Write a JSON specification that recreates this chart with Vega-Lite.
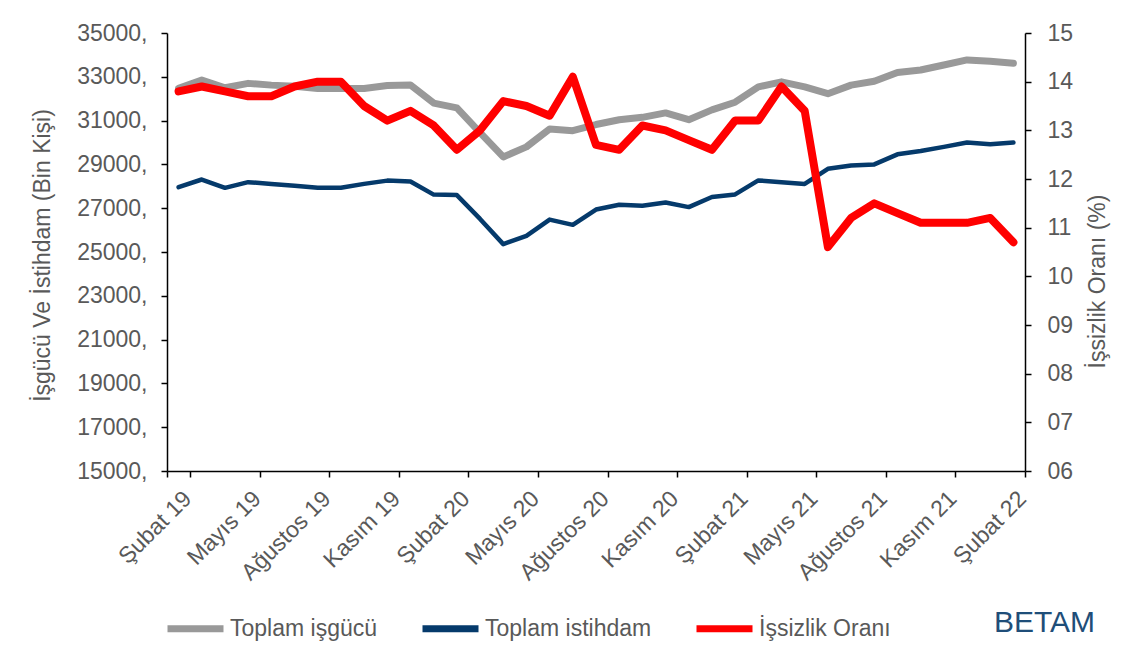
{
  "$schema": "https://vega.github.io/schema/vega-lite/v6.json",
  "width": 858,
  "height": 438,
  "autosize": {"type": "none"},
  "padding": {"left": 167, "top": 33, "right": 106, "bottom": 188},
  "background": "white",
  "config": {
    "view": {"stroke": null},
    "font": "Liberation Sans",
    "axis": {
      "labelFont": "Liberation Sans",
      "labelFontSize": 23,
      "labelColor": "#595959",
      "titleFont": "Liberation Sans",
      "titleFontSize": 23,
      "titleColor": "#595959",
      "titleFontWeight": "normal",
      "domainColor": "#000000",
      "domainWidth": 1.5,
      "tickColor": "#000000",
      "tickWidth": 1.5,
      "tickSize": 6,
      "grid": false
    },
    "legend": {
      "labelFont": "Liberation Sans",
      "labelFontSize": 23,
      "labelColor": "#595959",
      "labelLimit": 400
    }
  },
  "data": {
    "values": [
      {"ay": "Şubat 19", "Toplam işgücü": 32470, "Toplam istihdam": 27960, "İşsizlik Oranı": 13.8},
      {"ay": "Mart 19", "Toplam işgücü": 32850, "Toplam istihdam": 28310, "İşsizlik Oranı": 13.9},
      {"ay": "Nisan 19", "Toplam işgücü": 32500, "Toplam istihdam": 27930, "İşsizlik Oranı": 13.8},
      {"ay": "Mayıs 19", "Toplam işgücü": 32700, "Toplam istihdam": 28190, "İşsizlik Oranı": 13.7},
      {"ay": "Haziran 19", "Toplam işgücü": 32620, "Toplam istihdam": 28110, "İşsizlik Oranı": 13.7},
      {"ay": "Temmuz 19", "Toplam işgücü": 32570, "Toplam istihdam": 28030, "İşsizlik Oranı": 13.9},
      {"ay": "Ağustos 19", "Toplam işgücü": 32470, "Toplam istihdam": 27930, "İşsizlik Oranı": 14.0},
      {"ay": "Eylül 19", "Toplam işgücü": 32470, "Toplam istihdam": 27930, "İşsizlik Oranı": 14.0},
      {"ay": "Ekim 19", "Toplam işgücü": 32470, "Toplam istihdam": 28110, "İşsizlik Oranı": 13.5},
      {"ay": "Kasım 19", "Toplam işgücü": 32600, "Toplam istihdam": 28260, "İşsizlik Oranı": 13.2},
      {"ay": "Aralık 19", "Toplam işgücü": 32630, "Toplam istihdam": 28220, "İşsizlik Oranı": 13.4},
      {"ay": "Ocak 20", "Toplam işgücü": 31800, "Toplam istihdam": 27620, "İşsizlik Oranı": 13.1},
      {"ay": "Şubat 20", "Toplam işgücü": 31580, "Toplam istihdam": 27600, "İşsizlik Oranı": 12.6},
      {"ay": "Mart 20", "Toplam işgücü": 30450, "Toplam istihdam": 26510, "İşsizlik Oranı": 13.0},
      {"ay": "Nisan 20", "Toplam işgücü": 29340, "Toplam istihdam": 25360, "İşsizlik Oranı": 13.6},
      {"ay": "Mayıs 20", "Toplam işgücü": 29800, "Toplam istihdam": 25740, "İşsizlik Oranı": 13.5},
      {"ay": "Haziran 20", "Toplam işgücü": 30620, "Toplam istihdam": 26480, "İşsizlik Oranı": 13.3},
      {"ay": "Temmuz 20", "Toplam işgücü": 30540, "Toplam istihdam": 26240, "İşsizlik Oranı": 14.1},
      {"ay": "Ağustos 20", "Toplam işgücü": 30820, "Toplam istihdam": 26940, "İşsizlik Oranı": 12.7},
      {"ay": "Eylül 20", "Toplam işgücü": 31040, "Toplam istihdam": 27160, "İşsizlik Oranı": 12.6},
      {"ay": "Ekim 20", "Toplam işgücü": 31150, "Toplam istihdam": 27110, "İşsizlik Oranı": 13.1},
      {"ay": "Kasım 20", "Toplam işgücü": 31350, "Toplam istihdam": 27260, "İşsizlik Oranı": 13.0},
      {"ay": "Aralık 20", "Toplam işgücü": 31040, "Toplam istihdam": 27050, "İşsizlik Oranı": 12.8},
      {"ay": "Ocak 21", "Toplam işgücü": 31490, "Toplam istihdam": 27510, "İşsizlik Oranı": 12.6},
      {"ay": "Şubat 21", "Toplam işgücü": 31840, "Toplam istihdam": 27630, "İşsizlik Oranı": 13.2},
      {"ay": "Mart 21", "Toplam işgücü": 32540, "Toplam istihdam": 28270, "İşsizlik Oranı": 13.2},
      {"ay": "Nisan 21", "Toplam işgücü": 32770, "Toplam istihdam": 28190, "İşsizlik Oranı": 13.9},
      {"ay": "Mayıs 21", "Toplam işgücü": 32540, "Toplam istihdam": 28110, "İşsizlik Oranı": 13.4},
      {"ay": "Haziran 21", "Toplam işgücü": 32230, "Toplam istihdam": 28800, "İşsizlik Oranı": 10.6},
      {"ay": "Temmuz 21", "Toplam işgücü": 32620, "Toplam istihdam": 28950, "İşsizlik Oranı": 11.2},
      {"ay": "Ağustos 21", "Toplam işgücü": 32800, "Toplam istihdam": 29000, "İşsizlik Oranı": 11.5},
      {"ay": "Eylül 21", "Toplam işgücü": 33200, "Toplam istihdam": 29460, "İşsizlik Oranı": 11.3},
      {"ay": "Ekim 21", "Toplam işgücü": 33310, "Toplam istihdam": 29610, "İşsizlik Oranı": 11.1},
      {"ay": "Kasım 21", "Toplam işgücü": 33540, "Toplam istihdam": 29800, "İşsizlik Oranı": 11.1},
      {"ay": "Aralık 21", "Toplam işgücü": 33770, "Toplam istihdam": 30000, "İşsizlik Oranı": 11.1},
      {"ay": "Ocak 22", "Toplam işgücü": 33710, "Toplam istihdam": 29920, "İşsizlik Oranı": 11.2},
      {"ay": "Şubat 22", "Toplam işgücü": 33620, "Toplam istihdam": 30000, "İşsizlik Oranı": 10.7}
    ]
  },
  "title": {
    "text": "BETAM",
    "orient": "bottom",
    "anchor": "end",
    "frame": "group",
    "color": "#1f4e79",
    "fontSize": 30,
    "font": "Liberation Sans",
    "fontWeight": "normal",
    "dx": 70,
    "dy": -45,
    "offset": 10
  },
  "layer": [
    {
      "transform": [{"fold": ["Toplam işgücü", "Toplam istihdam"], "as": ["seri", "deger"]}],
      "mark": {"type": "line", "strokeJoin": "round", "strokeCap": "round"},
      "encoding": {
        "x": {
          "field": "ay",
          "type": "ordinal",
          "bandPosition": 0.5,
          "scale": {
            "type": "band",
            "paddingInner": 0,
            "paddingOuter": 0,
            "domain": ["Şubat 19", "Mart 19", "Nisan 19", "Mayıs 19", "Haziran 19", "Temmuz 19", "Ağustos 19", "Eylül 19", "Ekim 19", "Kasım 19", "Aralık 19", "Ocak 20", "Şubat 20", "Mart 20", "Nisan 20", "Mayıs 20", "Haziran 20", "Temmuz 20", "Ağustos 20", "Eylül 20", "Ekim 20", "Kasım 20", "Aralık 20", "Ocak 21", "Şubat 21", "Mart 21", "Nisan 21", "Mayıs 21", "Haziran 21", "Temmuz 21", "Ağustos 21", "Eylül 21", "Ekim 21", "Kasım 21", "Aralık 21", "Ocak 22", "Şubat 22"]
          },
          "axis": {
            "title": null,
            "values": ["Şubat 19", "Mayıs 19", "Ağustos 19", "Kasım 19", "Şubat 20", "Mayıs 20", "Ağustos 20", "Kasım 20", "Şubat 21", "Mayıs 21", "Ağustos 21", "Kasım 21", "Şubat 22"],
            "labelAngle": -45,
            "labelAlign": "right",
            "labelBaseline": "top",
            "labelPadding": 10,
            "labelOffset": 1,
            "labelOverlap": false,
            "labelBound": false,
            "labelFlush": false,
            "tickBand": "extent"
          }
        },
        "y": {
          "field": "deger",
          "type": "quantitative",
          "scale": {"domain": [15000, 35000], "nice": false, "zero": false},
          "axis": {
            "orient": "left",
            "values": [15000, 17000, 19000, 21000, 23000, 25000, 27000, 29000, 31000, 33000, 35000],
            "labelExpr": "datum.value + ','",
            "labelPadding": 14,
            "title": "İşgücü Ve İstihdam (Bin Kişi)",
            "titleAngle": 270,
            "titleX": -125,
            "titleY": 222,
            "titleBaseline": "middle",
            "titleAlign": "center"
          }
        },
        "color": {
          "field": "seri",
          "type": "nominal",
          "scale": {"domain": ["Toplam işgücü", "Toplam istihdam", "İşsizlik Oranı"], "range": ["#999999", "#053a6b", "#ff0000"]},
          "legend": {
            "title": null,
            "orient": "none",
            "direction": "horizontal",
            "legendX": -3,
            "legendY": 564,
            "symbolType": "stroke",
            "symbolSize": 3136,
            "symbolStrokeWidth": 7,
            "labelOffset": 3,
            "columnPadding": 30
          }
        },
        "strokeWidth": {
          "condition": {"test": "datum.seri === 'Toplam istihdam'", "value": 4.5},
          "value": 7
        }
      }
    },
    {
      "mark": {"type": "line", "strokeJoin": "round", "strokeCap": "round", "strokeWidth": 8},
      "encoding": {
        "x": {"field": "ay", "type": "ordinal", "bandPosition": 0.5},
        "y": {
          "field": "İşsizlik Oranı",
          "type": "quantitative",
          "scale": {"domain": [6, 15], "nice": false, "zero": false},
          "axis": {
            "orient": "right",
            "values": [6, 7, 8, 9, 10, 11, 12, 13, 14, 15],
            "format": "02d",
            "labelPadding": 16,
            "title": "İşsizlik Oranı (%)",
            "titleAngle": 270,
            "titleX": 72,
            "titleY": 248,
            "titleBaseline": "middle",
            "titleAlign": "center"
          }
        },
        "color": {"datum": "İşsizlik Oranı"}
      }
    }
  ],
  "resolve": {"scale": {"y": "independent"}}
}
